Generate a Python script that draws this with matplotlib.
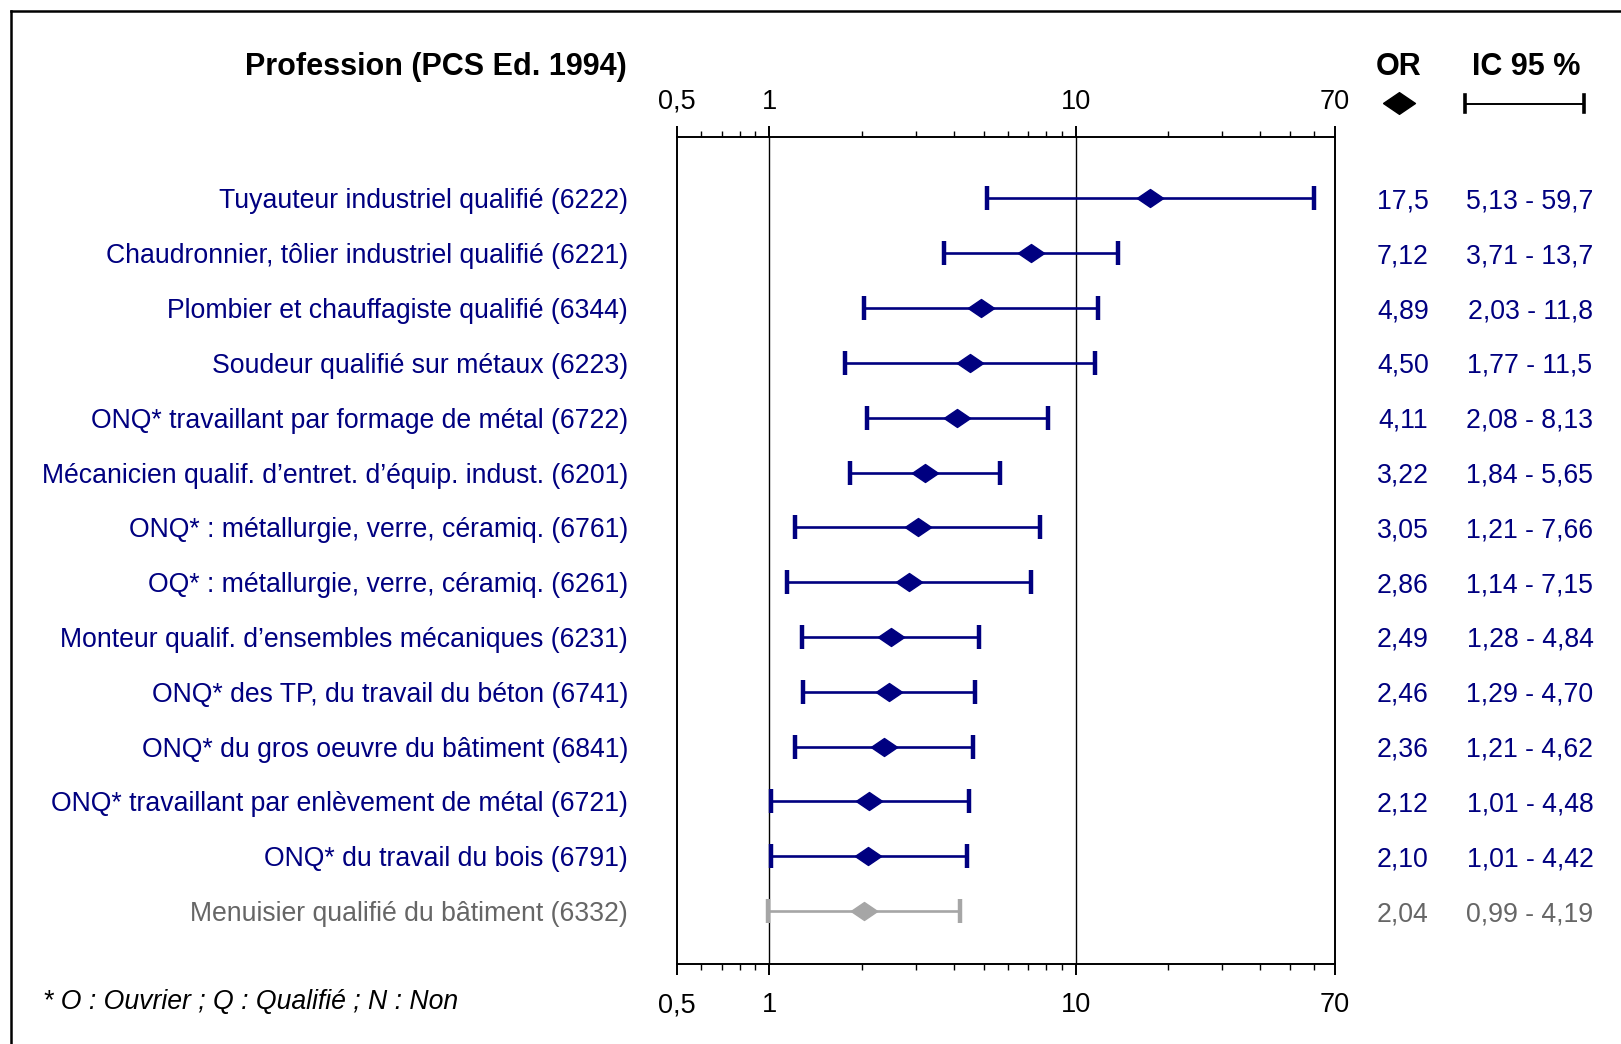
import matplotlib
matplotlib.use('Agg')
import matplotlib.pyplot as plt
from matplotlib.lines import Line2D
from matplotlib.ticker import FixedLocator, NullFormatter
import matplotlib.transforms as mtransforms

plt.rcParams['font.family'] = ['Liberation Sans', 'DejaVu Sans']

# données
professions = [
    "Tuyauteur industriel qualifié (6222)",
    "Chaudronnier, tôlier industriel qualifié (6221)",
    "Plombier et chauffagiste qualifié (6344)",
    "Soudeur qualifié sur métaux (6223)",
    "ONQ* travaillant par formage de métal (6722)",
    "Mécanicien qualif. d’entret. d’équip. indust. (6201)",
    "ONQ* : métallurgie, verre, céramiq. (6761)",
    "OQ* : métallurgie, verre, céramiq. (6261)",
    "Monteur qualif. d’ensembles mécaniques (6231)",
    "ONQ* des TP, du travail du béton (6741)",
    "ONQ* du gros oeuvre du bâtiment (6841)",
    "ONQ* travaillant par enlèvement de métal (6721)",
    "ONQ* du travail du bois (6791)",
    "Menuisier qualifié du bâtiment (6332)",
]
odds = [17.5, 7.12, 4.89, 4.50, 4.11, 3.22, 3.05, 2.86, 2.49, 2.46, 2.36, 2.12, 2.10, 2.04]
ic_bas = [5.13, 3.71, 2.03, 1.77, 2.08, 1.84, 1.21, 1.14, 1.28, 1.29, 1.21, 1.01, 1.01, 0.99]
ic_haut = [59.7, 13.7, 11.8, 11.5, 8.13, 5.65, 7.66, 7.15, 4.84, 4.70, 4.62, 4.48, 4.42, 4.19]
significatif = [True] * 13 + [False]

tick_vals = [0.5, 1, 10, 70]
tick_labels = ['0,5', '1', '10', '70']

def fr(v):
    # format à la française : 3 chiffres significatifs
    if v >= 10:
        s = '{:.1f}'.format(v)
    else:
        s = '{:.2f}'.format(v)
    return s.replace('.', ',')

W, H = 1621, 1044
fig = plt.figure(figsize=(W / 100, H / 100), dpi=100)

# axes du forest plot
ax = fig.add_axes([677 / W, 1 - 964 / H, (1335 - 677) / W, (964 - 137) / H])
ax.set_xscale('log')
ax.set_xlim(0.5, 70)
n = len(professions)
ax.set_ylim(n - 1 + 0.967, -1.122)
ax.set_yticks([])

for s in ax.spines.values():
    s.set_linewidth(1.4)
    s.set_color('black')

ax.xaxis.set_major_locator(FixedLocator(tick_vals))
ax.xaxis.set_major_formatter(NullFormatter())
minors = [0.6, 0.7, 0.8, 0.9] + list(range(2, 10)) + [20, 30, 40, 50, 60]
ax.xaxis.set_minor_locator(FixedLocator(minors))
ax.xaxis.set_minor_formatter(NullFormatter())
ax.tick_params(axis='x', which='major', direction='out', length=8, width=1.4,
               top=True, bottom=True, labeltop=False, labelbottom=False)
ax.tick_params(axis='x', which='minor', direction='out', length=4.5, width=1,
               top=True, bottom=True)

for v in [1, 10]:
    ax.axvline(v, color='black', lw=1.0, zorder=1)

losange = [(-1, 0), (0, 0.68), (1, 0), (0, -0.68), (-1, 0)]

for i in range(n):
    c = '#000080' if significatif[i] else '#a6a6a6'
    ax.errorbar(odds[i], i,
                xerr=[[odds[i] - ic_bas[i]], [ic_haut[i] - odds[i]]],
                fmt='none', ecolor=c, elinewidth=1.9, capsize=8.5, capthick=3.2, zorder=3)
    ax.plot(odds[i], i, marker=losange, markersize=19, color=c, linestyle='none', zorder=4)

# étiquettes de graduation (haut et bas)
fs = 19.2
tx = mtransforms.blended_transform_factory(ax.transData, fig.transFigure)
for v, lab in zip(tick_vals, tick_labels):
    ax.text(v, 1 - 102 / H, lab, transform=tx, ha='center', va='center', fontsize=19.5)
    ax.text(v, 1 - 1005 / H, lab, transform=tx, ha='center', va='center', fontsize=19.5)

# libellés et colonnes OR / IC
ty = mtransforms.blended_transform_factory(fig.transFigure, ax.transData)
for i in range(n):
    c = '#000080' if significatif[i] else '#666666'
    ax.text(628 / W, i, professions[i], transform=ty, ha='right', va='center_baseline',
            fontsize=fs, color=c, clip_on=False)
    ax.text(1403 / W, i, fr(odds[i]), transform=ty, ha='center', va='center_baseline',
            fontsize=fs, color=c, clip_on=False)
    ax.text(1530 / W, i, fr(ic_bas[i]) + ' - ' + fr(ic_haut[i]), transform=ty,
            ha='center', va='center_baseline', fontsize=fs, color=c, clip_on=False)

# en-têtes
fig.text(627 / W, 1 - 67 / H, 'Profession (PCS Ed. 1994)', ha='right', va='center',
         fontsize=22, fontweight='bold')
fig.text(1399 / W, 1 - 67 / H, 'OR', ha='center', va='center',
         fontsize=22, fontweight='bold')
fig.text(1526 / W, 1 - 67 / H, 'IC 95 %', ha='center', va='center',
         fontsize=22, fontweight='bold')

# légende des symboles
fig.add_artist(Line2D([1399 / W], [1 - 103 / H], marker=losange, markersize=23,
                      color='black', linestyle='none'))
fig.add_artist(Line2D([1465 / W, 1584 / W], [1 - 103.5 / H, 1 - 103.5 / H],
                      color='black', lw=1.4))
for xc in [1465, 1584]:
    fig.add_artist(Line2D([xc / W, xc / W], [1 - 95 / H, 1 - 112 / H],
                          color='black', lw=2.6))

# note
fig.text(43 / W, 1 - 1002 / H, '* O : Ouvrier ; Q : Qualifié ; N : Non',
         ha='left', va='center', fontsize=fs, style='italic')

# cadre (haut et gauche)
fig.add_artist(Line2D([10.5 / W, 1], [1 - 10.5 / H, 1 - 10.5 / H], color='black', lw=1.8))
fig.add_artist(Line2D([10.5 / W, 10.5 / W], [1 - 10.5 / H, 0], color='black', lw=1.8))

fig.savefig('out.png', dpi=100)
